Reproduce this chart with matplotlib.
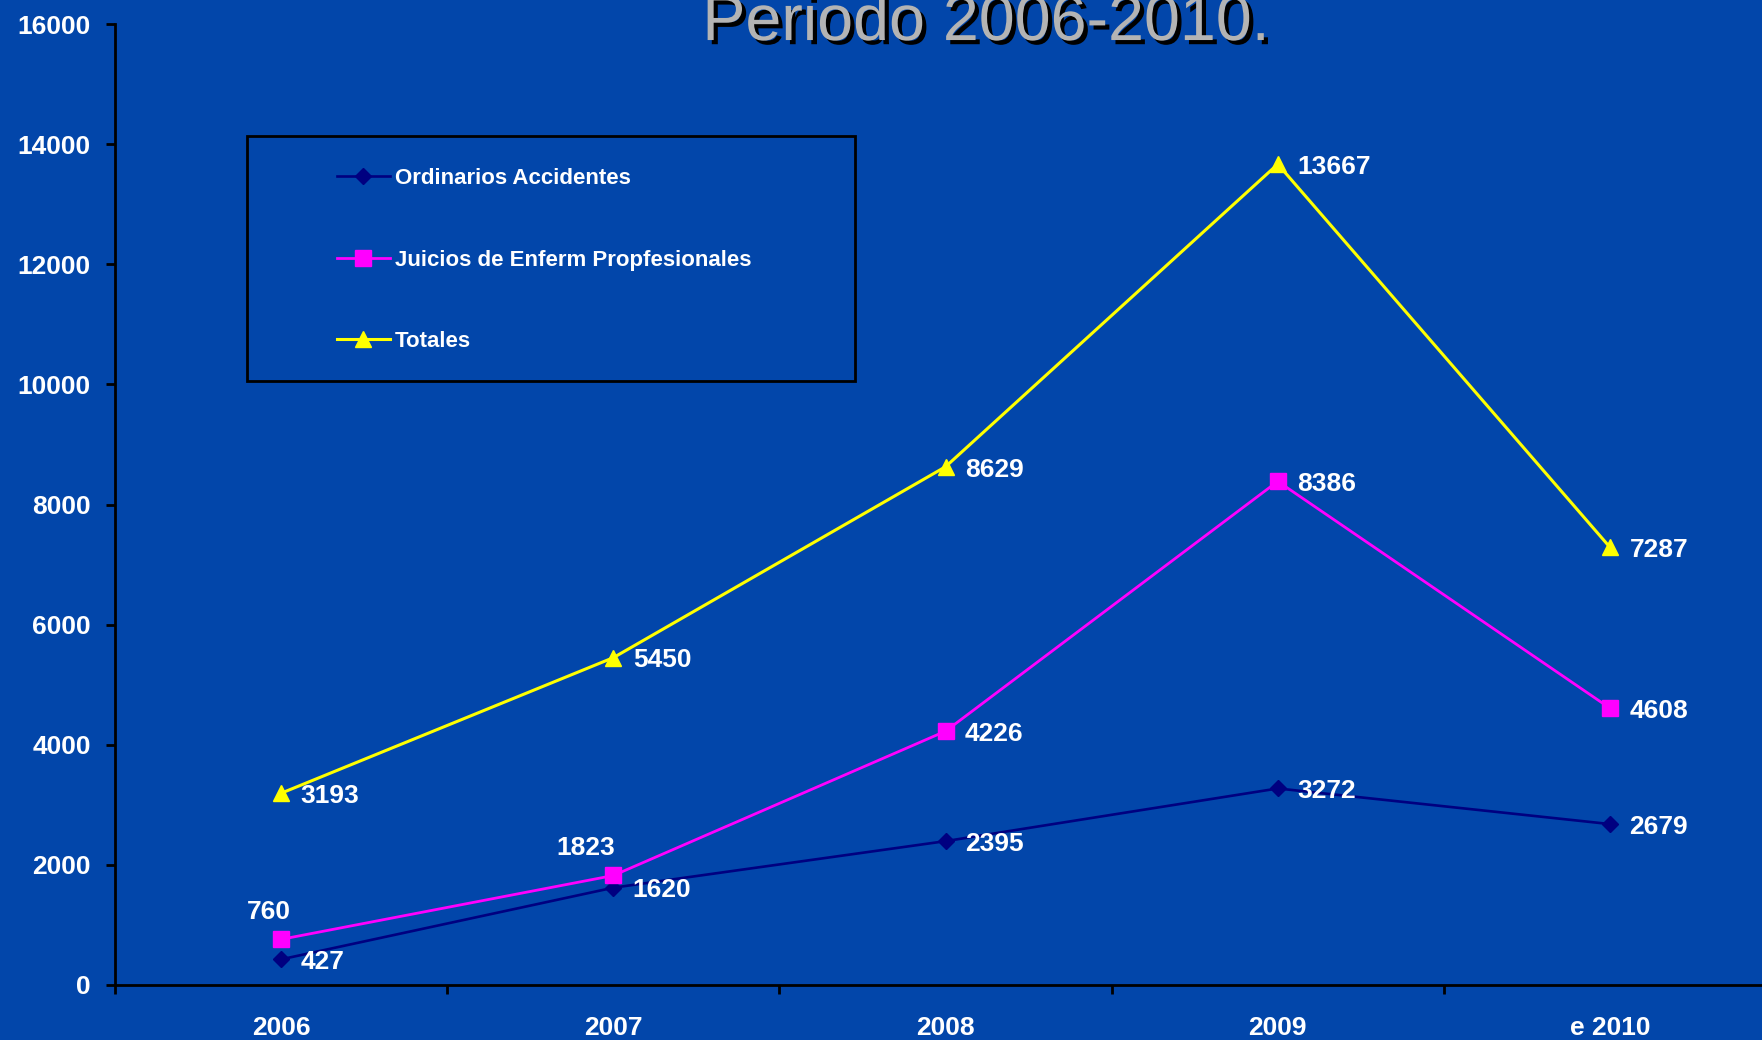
import matplotlib.pyplot as plt
import matplotlib.patheffects as pe
from matplotlib.patches import Rectangle

# Data
years = ['2006', '2007', '2008', '2009', 'e 2010']
ordinarios = [427, 1620, 2395, 3272, 2679]
juicios = [760, 1823, 4226, 8386, 4608]
totales = [3193, 5450, 8629, 13667, 7287]

bg = '#0246AA'
plt.rcParams['font.family'] = ['Liberation Sans', 'DejaVu Sans']

fig = plt.figure(figsize=(17.62, 10.40), dpi=100, facecolor=bg)
ax = fig.add_axes([0.0653, 0.0529, 0.9427, 0.924])
ax.set_facecolor(bg)

x = range(len(years))
l1, = ax.plot(x, ordinarios, color='#000080', lw=1.9, marker='D', ms=8,
              label='Ordinarios Accidentes', zorder=3)
l2, = ax.plot(x, juicios, color='#FF00FF', lw=2.0, marker='s', ms=11,
              label='Juicios de Enferm Propfesionales', zorder=3)
l3, = ax.plot(x, totales, color='#FFFF00', lw=2.2, marker='^', ms=11,
              label='Totales', zorder=3)

# data labels
lab = dict(color='white', fontsize=19, fontweight='bold', va='center',
           textcoords='offset points')
for i, v in enumerate(ordinarios):
    ax.annotate(str(v), (i, v), xytext=(14, -2), **lab)
for i, v in enumerate(totales):
    ax.annotate(str(v), (i, v), xytext=(14, -2), **lab)
juicios_offsets = [(-9, 20, 'center'), (-20, 20, 'center'),
                   (14, -2, 'left'), (14, -2, 'left'), (14, -2, 'left')]
for i, v in enumerate(juicios):
    dx, dy, ha = juicios_offsets[i]
    ax.annotate(str(v), (i, v), xytext=(dx, dy), ha=ha, **lab)

# axes
ax.set_xlim(-0.5, 4.5)
ax.set_ylim(0, 16000)
ax.set_yticks(range(0, 16001, 2000))
ax.set_xticks(list(x))
ax.set_xticklabels(years)
ax.set_xticks([i - 0.5 for i in range(len(years) + 1)], minor=True)
for s in ['top', 'right']:
    ax.spines[s].set_visible(False)
for s in ['left', 'bottom']:
    ax.spines[s].set_color('black')
    ax.spines[s].set_linewidth(2)
ax.tick_params(axis='y', colors='black', length=6.5, width=2, pad=11,
               labelcolor='white', labelsize=19)
ax.tick_params(axis='x', which='major', length=0, pad=22,
               labelcolor='white', labelsize=19)
ax.tick_params(axis='x', which='minor', length=6.5, width=2, color='black')
for t in ax.get_xticklabels() + ax.get_yticklabels():
    t.set_fontweight('bold')

# legend box
ax.add_patch(Rectangle((0.0795, 0.6285), 0.366, 0.2549, transform=ax.transAxes,
                       facecolor='none', edgecolor='black', lw=2, zorder=4))
leg = ax.legend(handles=[l1, l2, l3], loc='upper left', frameon=False,
                bbox_to_anchor=(0.1335, 0.850), fontsize=16, labelspacing=2.72,
                handlelength=2.4, handletextpad=0.2, borderpad=0,
                borderaxespad=0)
for t in leg.get_texts():
    t.set_color('white')
    t.set_fontweight('bold')

# title with shadow
fig.text(0.5596, 0.9615, 'Periodo 2006-2010.', ha='center', va='baseline',
         fontsize=46.5, color='#B4B4B4',
         path_effects=[pe.withSimplePatchShadow(offset=(3, -3),
                                                shadow_rgbFace='black',
                                                alpha=1.0)])

plt.savefig('out.png', dpi=100, facecolor=bg)
